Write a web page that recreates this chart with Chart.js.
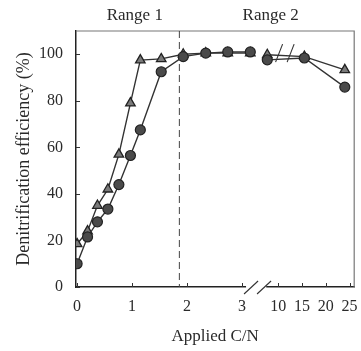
<!DOCTYPE html>
<html><head><meta charset="utf-8">
<script src="https://cdn.jsdelivr.net/npm/chart.js@4"></script>
<style>html,body{margin:0;padding:0;background:#fff}</style>
</head><body>
<canvas id="c" width="361" height="351"></canvas>
<script>
// ---- data (applied C/N vs denitrification efficiency %) ----
const cnRange1 = [0, 0.19, 0.37, 0.56, 0.76, 0.97, 1.15, 1.53, 1.93, 2.34, 2.74, 3.15];
const cnRange2 = [7.7, 15.5, 24];
const effTriangleRange1 = [18.5, 24, 35, 42, 57, 79, 97.5, 98, 100, 100.5, 100.5, 100.5];
const effTriangleRange2 = [99.8, 99, 93.3];
const effCircleRange1 = [10, 21.5, 28, 33.5, 44, 56.5, 67.5, 92.5, 99, 100.5, 101, 101];
const effCircleRange2 = [97.6, 98.4, 85.9];
const xTickValues = [0, 1, 2, 3, 10, 15, 20, 25];
const xTickLabels = ['0', '1', '2', '3', '10', '15', '20', '25'];
const yTickValues = [0, 20, 40, 60, 80, 100];
const rangeBoundaryCN = 1.86;
const rangeLabels = ['Range 1', 'Range 2'];
const rangeLabelCN = [1.05, 3.52];

// broken axis: linear up to 3, compressed from 10 onward
function axisPos(cn) { return cn <= 5 ? cn : 3.658 + (cn - 10) * 0.0865; }
const toPts = (xs, ys) => xs.map((c, i) => ({ x: axisPos(c), y: ys[i] }));

const SERIF = "'Liberation Serif', 'Times New Roman', 'DejaVu Serif', serif";
const INK = '#2a2a2a';

const triStyle = { order: 2, pointStyle: 'triangle', pointRadius: 5.5, pointBackgroundColor: '#7a7a7a', pointBorderColor: '#222', pointBorderWidth: 1.3, borderColor: '#333', borderWidth: 1.4, fill: false, tension: 0 };
const cirStyle = { order: 1, pointStyle: 'circle', pointRadius: 5, pointBackgroundColor: '#4a4a4a', pointBorderColor: '#222', pointBorderWidth: 1.2, borderColor: '#333', borderWidth: 1.4, fill: false, tension: 0 };

const deco = {
  id: 'deco',
  afterDraw(chart) {
    const { ctx, chartArea: a, scales: { x, y } } = chart;
    ctx.save();
    // top & right border
    ctx.strokeStyle = '#777'; ctx.lineWidth = 1.2;
    ctx.beginPath(); ctx.moveTo(a.left, a.top); ctx.lineTo(a.right, a.top); ctx.lineTo(a.right, a.bottom); ctx.stroke();
    // inner tick marks
    ctx.strokeStyle = '#333'; ctx.lineWidth = 1;
    yTickValues.forEach(v => { const py = Math.round(y.getPixelForValue(v)) + 0.5; ctx.beginPath(); ctx.moveTo(a.left, py); ctx.lineTo(a.left + 4, py); ctx.stroke(); });
    xTickValues.forEach(v => { const px = Math.round(x.getPixelForValue(axisPos(v))) + 0.5; ctx.beginPath(); ctx.moveTo(px, a.bottom); ctx.lineTo(px, a.bottom - 4); ctx.stroke(); });
    // dashed range boundary
    const bx = x.getPixelForValue(rangeBoundaryCN);
    ctx.strokeStyle = '#444'; ctx.lineWidth = 1; ctx.setLineDash([7, 4]);
    ctx.beginPath(); ctx.moveTo(bx, a.top); ctx.lineTo(bx, a.bottom); ctx.stroke();
    ctx.setLineDash([]);
    // axis break
    const g0 = x.getPixelForValue(axisPos(3)) + 4, g1 = x.getPixelForValue(axisPos(10)) - 12;
    ctx.fillStyle = '#fff'; ctx.fillRect(g0, a.bottom - 2, g1 - g0, 4);
    ctx.strokeStyle = '#333'; ctx.lineWidth = 1.1;
    [g0 + 1, g0 + 14].forEach(sx => { ctx.beginPath(); ctx.moveTo(sx - 3, a.bottom + 7); ctx.lineTo(sx + 11, a.bottom - 6); ctx.stroke(); });
    // break marks on data line
    [[3.61, 100.5], [3.82, 100.5]].forEach(([u, v]) => {
      const px = x.getPixelForValue(u), py = y.getPixelForValue(v);
      ctx.beginPath(); ctx.moveTo(px, py + 9); ctx.lineTo(px + 7, py - 9); ctx.stroke();
    });
    // range labels
    ctx.fillStyle = INK; ctx.font = '17px ' + SERIF; ctx.textAlign = 'center'; ctx.textBaseline = 'middle';
    rangeLabels.forEach((t, i) => ctx.fillText(t, x.getPixelForValue(rangeLabelCN[i]), 16));
    ctx.restore();
  }
};

new Chart(document.getElementById('c'), {
  type: 'scatter',
  data: {
    datasets: [
      Object.assign({ label: 'Triangle R1', data: toPts(cnRange1, effTriangleRange1), showLine: true }, triStyle),
      Object.assign({ label: 'Triangle R2', data: toPts(cnRange2, effTriangleRange2), showLine: true }, triStyle),
      Object.assign({ label: 'Circle R1', data: toPts(cnRange1, effCircleRange1), showLine: true }, cirStyle),
      Object.assign({ label: 'Circle R2', data: toPts(cnRange2, effCircleRange2), showLine: true }, cirStyle)
    ]
  },
  options: {
    responsive: false, animation: false, devicePixelRatio: 1,
    layout: { padding: { top: 31, right: 5, left: 0, bottom: 0 } },
    plugins: { legend: { display: false }, tooltip: { enabled: false } },
    scales: {
      x: {
        type: 'linear', min: -0.02, max: 5.04,
        afterFit(s) { s.height = 64; s.paddingLeft = 0; s.paddingRight = 0; },
        afterBuildTicks(s) { s.ticks = xTickValues.map(v => ({ value: axisPos(v) })); },
        grid: { display: true, drawOnChartArea: false, drawTicks: false },
        border: { display: true, color: '#222', width: 1.5 },
        ticks: { autoSkip: false, maxRotation: 0, padding: 10, color: INK, font: { family: SERIF, size: 16 }, callback: (v, i) => xTickLabels[i] },
        title: { display: true, text: 'Applied C/N', color: INK, font: { family: SERIF, size: 17 }, padding: { top: 0, bottom: 4 } }
      },
      y: {
        min: 0, max: 110,
        afterFit(s) { s.width = 76; s.paddingTop = 0; s.paddingBottom = 0; },
        afterBuildTicks(s) { s.ticks = yTickValues.map(v => ({ value: v })); },
        grid: { display: true, drawOnChartArea: false, drawTicks: false },
        border: { display: true, color: '#222', width: 1.5 },
        ticks: { padding: 13, color: INK, font: { family: SERIF, size: 16 }, callback: v => String(v) },
        title: { display: true, text: 'Denitrification efficiency (%)', color: INK, font: { family: SERIF, size: 18 }, padding: { top: 13, bottom: 0 } }
      }
    }
  },
  plugins: [deco]
});
</script>
</body></html>
